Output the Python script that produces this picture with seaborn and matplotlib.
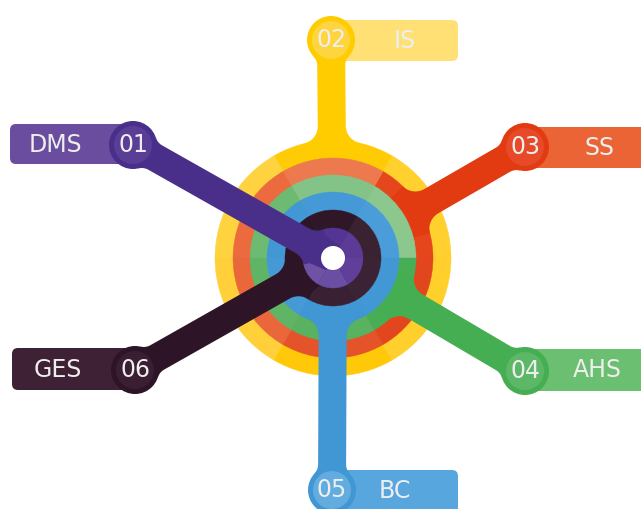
import numpy as np
import matplotlib
matplotlib.use("Agg")
import matplotlib.pyplot as plt
from matplotlib.patches import Circle, Wedge, FancyBboxPatch, Polygon
import seaborn as sns

# ---- data ----
codes = ["01", "02", "03", "04", "05", "06"]
labels = ["DMS", "IS", "SS", "AHS", "BC", "GES"]
# ring order from outermost to innermost (by code)
ring_order = ["02", "03", "04", "05", "06", "01"]

# ---- styles ----
arm_colors = {"01": "#4A2F8A", "02": "#FFCC00", "03": "#E23B12",
              "04": "#46AE52", "05": "#4196D4", "06": "#2D1426"}
badge_colors = {"01": "#6A4D9E", "02": "#FFE074", "03": "#EA6436",
                "04": "#6BBF70", "05": "#57A6DE", "06": "#3E2135"}
inner_circle = {"01": "#5A3D95", "02": "#FFD53F", "03": "#E64A28",
                "04": "#5CB866", "05": "#62ACE0", "06": "#3A1E31"}
ring_shades = {
    "02": ["#FFD02E", "#FFCB05", "#FFD33F", "#FFD03A", "#FFC90A", "#FFCF2C"],
    "03": ["#E5461C", "#ED7A4E", "#EB6B3E", "#E9673A", "#E4532A", "#E2461E"],
    "04": ["#8CC88D", "#84C387", "#6DBB72", "#5FB565", "#58B260", "#48AE55"],
    "05": ["#4A9DD8", "#4599D6", "#4297D5", "#4499D6", "#4096D4", "#4297D5"],
    "06": ["#3B2233", "#2F1727", "#2C1525", "#2E1828", "#3A2033", "#3C2235"],
    "01": ["#5B3B96", "#553593", "#4E2F8B", "#6F52A6", "#6A4EA4", "#5F3F9A"],
}
text_color = "#EEEEEE"

# ---- layout (pixel space) ----
W, H = 641, 509
cx, cy = 333, 258
ring_radii = {"02": 118, "03": 100, "04": 83, "05": 66, "06": 48, "01": 30}
hole_r = 12
arm_h = 14            # half width of the arms
fillet_ring = 18
fillet_badge = 14
badge_center = {"01": (133, 145), "02": (331, 40), "03": (525, 147),
                "04": (525, 371), "05": (332, 490), "06": (135, 370)}
badge_rect = {"01": (10, 124, 130, 40), "02": (318, 20, 140, 41),
              "03": (530, 127, 130, 41), "04": (530, 349, 130, 42),
              "05": (320, 470, 138, 45), "06": (12, 348, 130, 42)}
label_pos = {"01": (55, 145), "02": (405, 41), "03": (600, 148),
             "04": (597, 370), "05": (395, 491), "06": (58, 370)}
circ_r, circ_inner_r = 24, 19

sns.set_theme(style="white")
plt.rcParams["font.family"] = ["DejaVu Sans"]

fig = plt.figure(figsize=(W / 100, H / 100), dpi=100)
ax = fig.add_axes([0, 0, 1, 1])
ax.set_xlim(0, W)
ax.set_ylim(H, 0)
ax.set_aspect("equal")
ax.axis("off")


def arm_outline(R, L, h, fr, fb, n=24):
    """Half-outline (t, w) of an arm along its axis, with concave fillets
    against the ring (radius R) and the badge circle (radius circ_r at L)."""
    pts = []
    a = np.sqrt((R + fr) ** 2 - (h + fr) ** 2)
    c0 = np.array([a, h + fr])
    tc = c0 * R / (R + fr)                      # tangent point on ring
    ang0 = np.arctan2(tc[1] - c0[1], tc[0] - c0[0])
    ang1 = -np.pi / 2
    pts.append((tc[0] * 0.8, max(tc[1] * 0.8, h)))
    for t in np.linspace(ang0, ang1, n):
        pts.append((c0[0] + fr * np.cos(t), c0[1] + fr * np.sin(t)))
    b = L - np.sqrt((circ_r + fb) ** 2 - (h + fb) ** 2)
    c1 = np.array([b, h + fb])
    tb = np.array([L, 0]) + (c1 - np.array([L, 0])) * circ_r / (circ_r + fb)
    ang2 = -np.pi / 2
    ang3 = np.arctan2(tb[1] - c1[1], tb[0] - c1[0])
    for t in np.linspace(ang2, ang3, n):
        pts.append((c1[0] + fb * np.cos(t), c1[1] + fb * np.sin(t)))
    pts.append((L, 0))
    return pts


def draw_arm(code, R, z):
    bx, by = badge_center[code]
    d = np.array([bx - cx, by - cy], float)
    L = np.hypot(*d)
    u = d / L
    v = np.array([-u[1], u[0]])
    half = arm_outline(R, L, arm_h, fillet_ring, fillet_badge)
    upper = [(t, w) for t, w in half]
    lower = [(t, -w) for t, w in reversed(half)]
    local = [(0, arm_h)] + upper + lower + [(0, -arm_h)]
    pts = [(cx + t * u[0] + w * v[0], cy + t * u[1] + w * v[1])
           for t, w in local]
    ax.add_patch(Polygon(pts, closed=True, fc=arm_colors[code], ec="none",
                         zorder=z))


for code, lab in zip(codes, labels):
    x, y, w, h = badge_rect[code]
    ax.add_patch(FancyBboxPatch((x + 6, y + 6), w - 12, h - 12,
                                boxstyle="round,pad=6", fc=badge_colors[code],
                                ec="none", zorder=1))
    lx, ly = label_pos[code]
    ax.text(lx, ly, lab, color=text_color, fontsize=17, ha="center",
            va="center", zorder=50)

z = 2
for code in ring_order:
    R = ring_radii[code]
    for i, col in enumerate(ring_shades[code]):
        ax.add_patch(Wedge((cx, cy), R, -(i + 1) * 60, -i * 60,
                           fc=col, ec=col, lw=0.3, zorder=z))
    z += 1
    draw_arm(code, R, z)
    bx, by = badge_center[code]
    ax.add_patch(Circle((bx, by), circ_r, fc=arm_colors[code], ec="none",
                        zorder=z))
    ax.add_patch(Circle((bx, by), circ_inner_r, fc=inner_circle[code],
                        ec="none", zorder=z))
    ax.text(bx, by, code, color=text_color, fontsize=17, ha="center",
            va="center", zorder=50)
    z += 1

ax.add_patch(Circle((cx, cy), hole_r, fc="white", ec="none", zorder=z + 1))

fig.savefig("out.png", dpi=100, facecolor="white")
